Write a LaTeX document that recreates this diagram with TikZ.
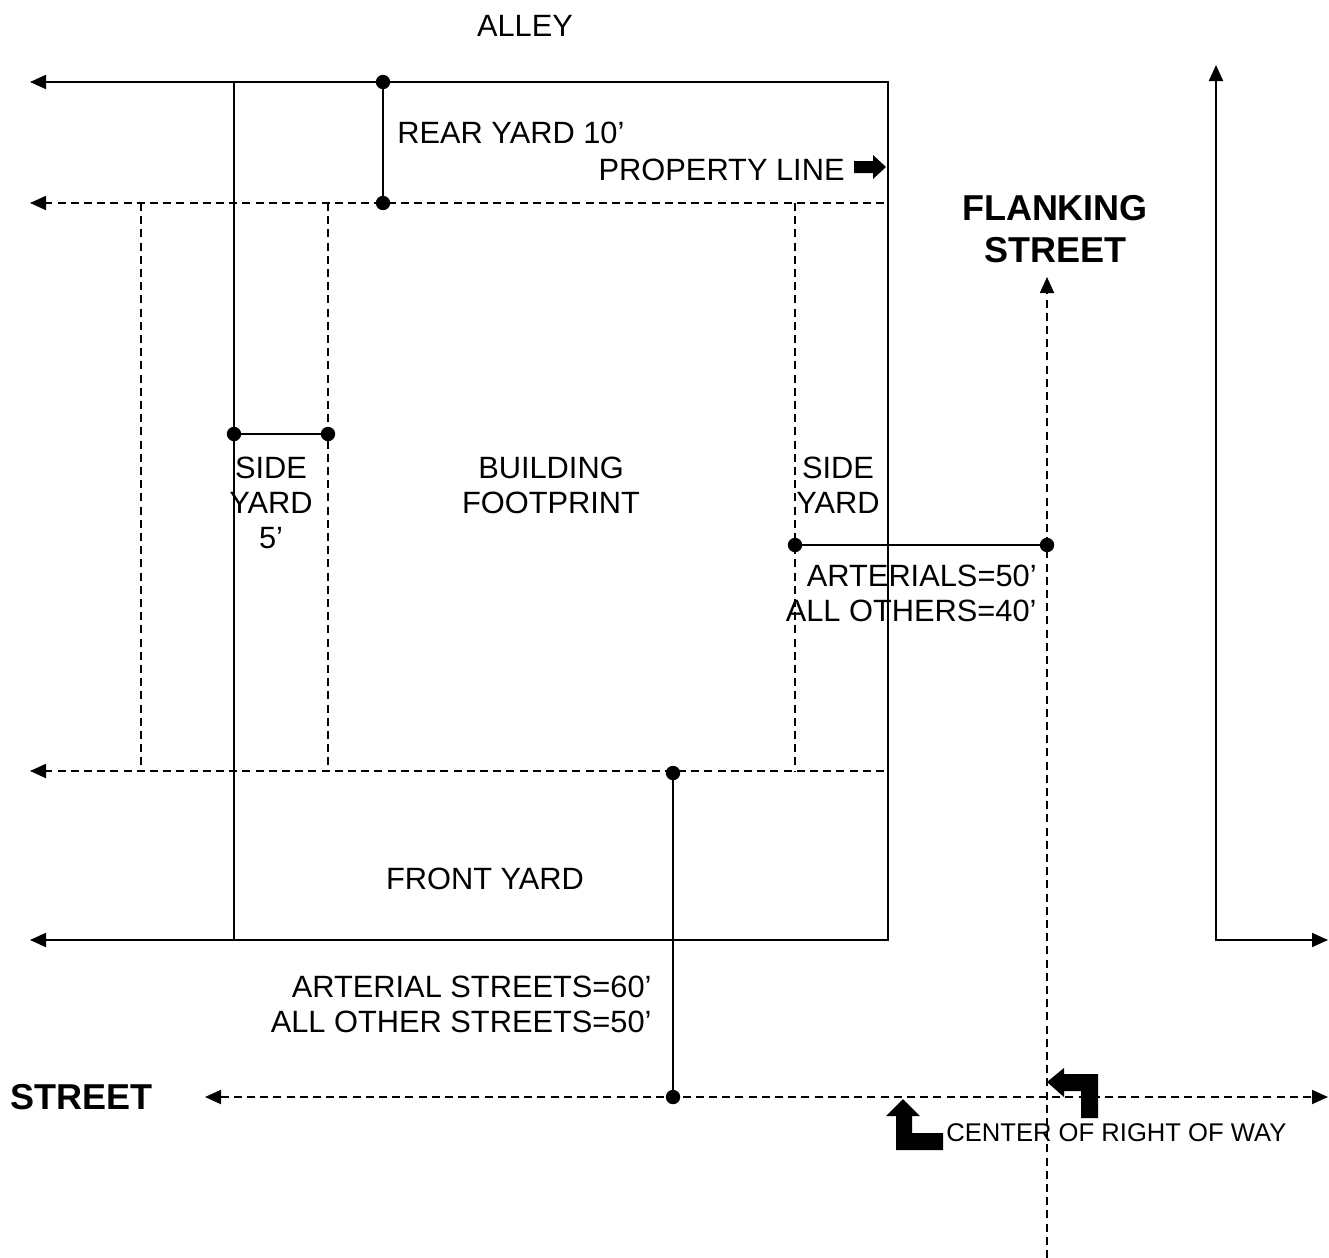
\documentclass[tikz,border=0pt]{standalone}
\usepackage{fontspec}
\setmainfont{Liberation Sans}
\usetikzlibrary{arrows.meta}
\def\yarddot(#1){\fill (#1) circle (3.6pt);}

\begin{document}
\begin{tikzpicture}[x=5pt,y=-5pt,
		lbl/.style={inner sep=0pt,font=\fontsize{15.4}{17.5}\selectfont},
		bigword/.style={inner sep=0pt,font=\fontsize{18}{21}\selectfont\bfseries},
		smallword/.style={inner sep=0pt,font=\fontsize{12.8}{15}\selectfont},
		solidline/.style={line width=1pt},
		dashline/.style={line width=0.9pt,dash pattern=on 4pt off 2.6pt},
		tipend/.style={-{Triangle[length=8pt,width=7pt]}},
		tipboth/.style={{Triangle[length=8pt,width=7pt]}-{Triangle[length=8pt,width=7pt]}}]
	%%%%% START %%%%%
	\useasboundingbox (0,0) rectangle (132.9,125.8);
	
	% property line
	\draw[solidline,tipboth] (3.0,8.2) -- (88.8,8.2) -- (88.8,94.0) -- (3.0,94.0);
	\draw[solidline] (23.4,8.2) -- (23.4,94.0);
	
	% setback lines
	\draw[dashline,tipend] (88.4,20.3) -- (3.0,20.3);
	\draw[dashline,tipend] (88.4,77.1) -- (3.0,77.1);
	\draw[dashline] (14.1,20.3) -- (14.1,77.1);
	\draw[dashline] (32.8,20.3) -- (32.8,77.1);
	\draw[dashline] (79.5,20.3) -- (79.5,77.1);
	
	% rear yard
	\draw[solidline] (38.3,8.2) -- (38.3,20.3);
	\yarddot(38.3,8.2)
	\yarddot(38.3,20.3)
	
	% side yard
	\draw[solidline] (23.4,43.4) -- (32.8,43.4);
	\yarddot(23.4,43.4)
	\yarddot(32.8,43.4)
	
	% flanking side
	\draw[solidline] (79.5,54.5) -- (104.7,54.5);
	\yarddot(79.5,54.5)
	\yarddot(104.7,54.5)
	
	% front yard
	\draw[solidline] (67.3,77.3) -- (67.3,109.7);
	\yarddot(67.3,77.3)
	\yarddot(67.3,109.7)
	
	% streets
	\draw[dashline,tipboth] (20.5,109.7) -- (132.8,109.7);
	\draw[dashline,tipend] (104.7,125.8) -- (104.7,27.7);
	\draw[solidline,tipboth] (121.6,6.5) -- (121.6,94.0) -- (132.8,94.0);
	
	% block arrows
	\fill (85.4,16.1) -- (87.3,16.1) -- (87.3,15.5) -- (88.6,16.7) -- (87.3,17.9) -- (87.3,17.3) -- (85.4,17.3) -- cycle;
	\fill (90.3,109.9) -- (92.0,111.6) -- (91.2,111.6) -- (91.2,113.3) -- (94.3,113.3) -- (94.3,115.0) -- (89.6,115.0) -- (89.6,111.6) -- (88.6,111.6) -- cycle;
	\fill (104.7,108.2) -- (106.4,106.8) -- (106.4,107.4) -- (109.8,107.4) -- (109.8,111.8) -- (108.1,111.8) -- (108.1,109.1) -- (106.4,109.1) -- (106.4,109.7) -- cycle;
	
	% labels
	\node[lbl] (alley) at (52.5,2.6) {ALLEY};
	\node[lbl,anchor=west] (rearyard) at (39.7,13.3) {REAR YARD 10’};
	\node[lbl,anchor=east] (propline) at (84.5,17.0) {PROPERTY LINE};
	\node[bigword,align=center] (flanking) at (105.5,22.9) {FLANKING\\STREET};
	\node[lbl,align=center] (sideleft) at (27.1,50.3) {SIDE\\YARD\\5’};
	\node[lbl,align=center] (building) at (55.1,48.5) {BUILDING\\FOOTPRINT};
	\node[lbl,align=center] (sideright) at (83.8,48.5) {SIDE\\YARD};
	\node[lbl,align=right,anchor=east] (flankdim) at (103.7,59.3) {ARTERIALS=50’\\ALL OTHERS=40’};
	\node[lbl] (frontyard) at (48.5,87.9) {FRONT YARD};
	\node[lbl,align=right,anchor=east] (frontdim) at (65.2,100.4) {ARTERIAL STREETS=60’\\ALL OTHER STREETS=50’};
	\node[bigword,anchor=west] (street) at (1.0,109.7) {STREET};
	\node[smallword,anchor=west] (center) at (94.6,113.3) {CENTER OF RIGHT OF WAY};
	
	%%%%% END %%%%%
\end{tikzpicture}
\end{document}
